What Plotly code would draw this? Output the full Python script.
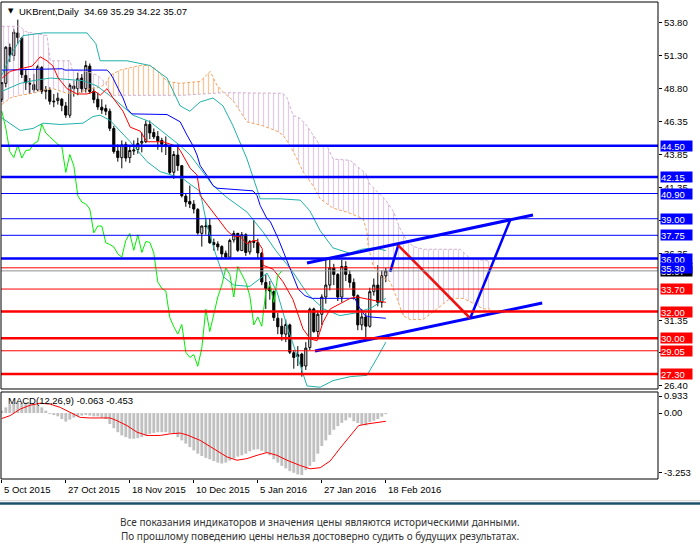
import plotly.graph_objects as go

# ---------------- data ----------------
opens = [48.0, 49.2, 51.9, 51.3, 53.0, 52.6, 49.8, 49.2, 49.1, 48.7,
         50.4, 48.6, 48.7, 47.8, 47.9, 48.0, 47.5, 46.8, 49.0, 48.8,
         49.6, 48.8, 50.5, 48.6, 48.0, 47.4, 47.3, 47.1, 45.8, 44.1,
         43.6, 44.6, 43.6, 44.1, 44.2, 44.7, 44.8, 46.1, 45.5, 45.2,
         44.9, 44.6, 44.4, 42.5, 43.8, 43.0, 40.7, 40.3, 40.1, 39.7,
         37.9, 38.4, 38.5, 37.2, 37.1, 36.9, 36.4, 36.1, 37.4, 37.9,
         36.6, 37.8, 36.5, 37.3, 37.2, 36.4, 34.2, 33.8, 33.5, 31.5,
         30.9, 30.3, 31.0, 28.9, 28.6, 28.8, 27.9, 29.3, 32.2, 30.5,
         31.8, 33.1, 34.0, 35.3, 34.8, 33.1, 35.4, 34.8, 34.2, 33.2,
         31.0, 31.6, 30.9, 33.5, 34.0, 32.7, 34.69]
highs = [49.3, 52.0, 52.2, 53.3, 54.0, 52.7, 50.3, 49.6, 49.9, 50.6,
         50.5, 49.0, 48.9, 48.4, 48.5, 48.1, 47.8, 49.2, 49.4, 50.0,
         49.9, 50.9, 50.7, 48.9, 48.5, 48.0, 47.6, 47.3, 46.0, 44.6,
         44.9, 44.8, 44.5, 44.9, 45.1, 45.5, 46.4, 46.4, 45.8, 45.6,
         45.1, 45.2, 44.5, 44.1, 44.6, 43.0, 40.9, 41.5, 40.4, 39.8,
         38.5, 39.0, 39.0, 37.5, 37.3, 37.0, 36.6, 37.5, 38.1, 37.9,
         38.0, 37.9, 37.4, 38.9, 37.5, 36.5, 34.8, 34.3, 33.6, 31.9,
         31.5, 31.4, 31.1, 29.1, 29.4, 28.9, 29.7, 32.3, 32.3, 32.1,
         33.3, 36.0, 35.9, 35.6, 34.9, 35.9, 35.8, 35.1, 34.5, 33.3,
         32.2, 31.9, 33.8, 34.5, 35.5, 35.1, 35.29]
lows = [47.8, 48.9, 50.8, 50.9, 52.2, 49.6, 48.7, 48.4, 48.5, 48.6,
        48.4, 48.0, 47.6, 47.4, 47.6, 47.1, 46.6, 46.6, 48.2, 48.3,
        48.5, 48.5, 48.4, 47.7, 47.2, 46.9, 46.8, 45.6, 43.9, 43.3,
        42.8, 43.3, 43.2, 43.8, 43.9, 44.0, 44.7, 45.0, 45.0, 44.2,
        44.0, 43.8, 42.3, 42.0, 42.6, 40.6, 39.9, 39.8, 39.4, 37.8,
        36.9, 37.8, 37.1, 36.6, 36.6, 36.0, 35.98, 36.0, 37.2, 36.5,
        36.6, 36.2, 36.3, 36.8, 36.0, 34.0, 32.2, 32.9, 31.3, 30.3,
        29.8, 29.7, 28.8, 27.7, 27.9, 27.1, 27.6, 29.1, 30.4, 30.0,
        31.0, 32.6, 33.6, 34.0, 32.8, 32.7, 34.3, 33.8, 32.9, 30.6,
        30.6, 30.0, 30.8, 33.2, 32.4, 32.3, 34.22]
closes = [49.25, 51.92, 51.33, 53.05, 52.65, 49.86, 49.24, 49.15, 48.71, 50.46,
          48.61, 48.71, 47.85, 47.85, 48.08, 47.54, 46.81, 49.05, 48.80, 49.56,
          48.79, 50.54, 48.58, 47.98, 47.42, 47.19, 47.10, 45.81, 44.06, 43.61,
          44.56, 43.57, 44.14, 44.18, 44.66, 44.83, 46.12, 45.46, 45.17, 44.86,
          44.61, 44.44, 42.49, 43.84, 43.00, 40.73, 40.26, 40.11, 39.73, 37.93,
          38.45, 38.45, 37.19, 37.06, 36.88, 36.35, 36.11, 37.36, 37.89, 36.62,
          37.79, 36.46, 37.28, 37.22, 36.42, 34.23, 33.75, 33.55, 31.55, 30.86,
          30.31, 31.03, 28.94, 28.55, 28.76, 27.88, 29.25, 32.18, 30.50, 31.80,
          33.10, 34.00, 35.30, 34.80, 33.10, 35.40, 34.80, 34.20, 33.20, 31.00,
          31.60, 30.90, 33.50, 34.00, 32.70, 34.70, 35.07]
bar_index = list(range(len(closes)))

date_tick_idx = [0, 16, 32, 48, 64, 80, 96]
date_tick_text = ["5 Oct 2015", "27 Oct 2015", "18 Nov 2015", "10 Dec 2015",
                  "5 Jan 2016", "27 Jan 2016", "18 Feb 2016"]

price_ticks = [53.80, 51.30, 48.80, 46.35, 43.85, 41.35, 38.85, 36.35, 31.35, 28.90, 26.40]
price_tick_text = ["53.80", "51.30", "48.80", "46.35", "43.85", "41.35", "38.85",
                   "36.35", "31.35", "28.90", "26.40"]

# Bollinger bands
bb_up_x = [0, 2.5, 5.3, 10.5, 21.3, 23.5, 24.6, 31.3, 37.0, 41.3, 44.6, 47.0, 49.6, 52.8,
           55.3, 57.8, 61.3, 64.6, 69.6, 74.6, 77.0, 79.6, 82.8, 87.0, 90.0, 93.0, 96.0]
bb_up = [49.8, 51.5, 52.8, 53.0, 53.0, 52.2, 50.9, 50.9, 50.55, 49.6, 47.5, 47.1, 47.8, 48.1,
         47.5, 46.0, 43.5, 40.5, 40.5, 40.4, 39.6, 38.1, 36.8, 36.4, 36.7, 36.8, 36.6]
bb_mid_x = [0, 4.6, 7.8, 12.1, 20.3, 23.8, 27.8, 32.8, 37.1, 41.3, 44.6, 47.1, 49.6, 52.8,
            56.3, 61.3, 65.3, 68.5, 72.5, 76.5, 80.5, 84.5, 88.5, 92.5, 96.0]
bb_mid = [48.6, 49.2, 49.4, 49.6, 49.4, 49.0, 48.1, 46.8, 46.3, 45.3, 44.5, 43.8, 42.8, 41.5,
          40.6, 39.5, 38.0, 36.6, 35.1, 33.3, 32.2, 31.7, 31.9, 32.3, 33.0]
bb_low_x = [0, 4.6, 7.8, 10.3, 14.6, 20.3, 22.8, 24.6, 27.1, 32.1, 36.3, 39.6, 42.8, 45.3,
            49.6, 51.3, 53.5, 55.5, 58.0, 62.0, 64.6, 66.3, 68.8, 71.3, 73.8, 76.3, 79.6,
            82.8, 87.1, 91.3, 94.0, 96.0]
bb_low = [46.6, 45.65, 45.8, 46.2, 46.1, 46.2, 46.7, 46.8, 46.4, 44.8, 43.3, 42.55, 42.25, 42.0,
          41.05, 38.5, 36.3, 34.6, 34.0, 33.9, 34.5, 34.9, 33.5, 30.9, 28.7, 26.4, 26.3,
          26.8, 27.1, 27.2, 28.6, 29.7]

# Ichimoku
tenkan_x = [0.1, 2.1, 4.6, 7.6, 9.6, 11.3, 12.8, 14.1, 16.3, 18.8, 21.3, 23.3, 24.6, 26.3,
            27.8, 30.3, 32.1, 34.6, 36.3, 40.3, 43.8, 44.6, 47.1, 48.8, 49.6, 52.1, 53.8,
            56.3, 57.8, 59.6, 61.3, 62.8, 63.8, 65.1, 65.3, 67.8, 70.3, 72.8, 75.3, 77.1,
            78.8, 80.3, 82.1, 84.6, 87.1, 88.8, 90.3, 93.8, 96.0]
tenkan = [49.6, 50.1, 50.3, 50.5, 51.2, 50.9, 50.5, 49.6, 48.8, 48.4, 48.4, 48.6, 48.3, 48.8,
          48.1, 47.1, 45.9, 45.6, 44.8, 44.8, 44.45, 44.15, 42.8, 42.3, 40.75, 39.8, 39.1,
          38.1, 37.7, 37.65, 37.1, 37.35, 37.35, 36.75, 35.5, 35.2, 34.25, 32.9, 30.7, 29.95,
          29.8, 31.2, 32.2, 32.6, 33.0, 33.1, 33.0, 32.8, 32.7]
kijun_x = [0, 15.1, 15.8, 26.3, 27.1, 27.8, 29.1, 30.3, 31.3, 32.5, 41.3, 44.6, 46.3, 47.8,
           48.8, 49.6, 51.3, 52.8, 53.8, 62.8, 63.8, 64.6, 66.3, 67.1, 69.1, 70.8, 72.6,
           74.1, 75.8, 77.6, 88.3, 89.1, 90.8, 92.1, 96.0]
kijun = [50.2, 50.3, 50.2, 50.2, 49.95, 49.6, 48.8, 48.1, 47.3, 46.9, 46.85, 46.3, 45.3, 44.5,
         43.8, 43.0, 42.25, 41.5, 41.3, 41.1, 40.75, 40.0, 39.0, 38.8, 37.5, 36.2, 34.7,
         33.7, 33.2, 33.0, 33.0, 32.45, 31.7, 31.6, 31.5]
chikou_shift = 26
senkou_a_x = [0, 2.1, 4.6, 7.8, 10.3, 12.8, 16.3, 18.8, 22.1, 24.6, 26.0, 27.1, 29.6, 31.3,
              34.6, 37.1, 38.8, 41.3, 44.6, 49.6, 52.1, 53.8, 55.5, 57.8, 61.3, 65.3, 68.8,
              70.3, 72.1, 73.8, 75.3, 78.0, 79.6, 82.8, 86.3, 90.3, 91.3, 91.6, 92.8, 94.6,
              97.1, 98.8, 100.3, 102.1, 105.3, 108.8, 112.1, 115.3, 117.1, 120.3, 122.1]
senkou_a = [47.6, 48.1, 48.3, 48.45, 48.7, 48.8, 48.45, 48.45, 48.8, 48.9, 49.2, 49.8, 50.2, 50.3,
            50.55, 50.55, 50.2, 49.35, 49.2, 49.35, 50.1, 49.05, 48.5, 47.9, 46.3, 46.0, 45.6,
            45.3, 44.5, 43.5, 42.55, 41.4, 40.5, 39.8, 39.5, 39.0, 38.0, 36.95, 35.5, 34.7,
            34.25, 33.0, 31.7, 31.4, 31.4, 32.2, 33.0, 33.0, 32.75, 32.2, 32.2]
senkou_b_x = [0, 4.6, 5.8, 11.3, 12.1, 17.1, 17.6, 21.3, 24.0, 26.0, 27.5, 45.0, 55.5, 70.3,
              71.3, 72.8, 74.6, 76.3, 79.6, 81.3, 82.8, 87.1, 91.0, 92.0, 94.0, 96.0, 98.0,
              99.5, 101.3, 103.0, 105.3, 114.6, 115.3, 117.1, 122.1]
senkou_b = [53.5, 53.5, 53.1, 52.8, 50.9, 50.9, 50.2, 50.1, 49.8, 49.2, 48.3, 48.3, 48.5, 48.45,
            48.1, 46.8, 46.55, 46.0, 44.5, 44.5, 43.5, 43.4, 42.4, 41.6, 41.0, 40.4, 39.5,
            38.3, 37.3, 36.9, 36.7, 36.7, 36.5, 36.0, 35.8]
cloud_breaks = [0.0, 26.0, 55.5, 122.1]

# MACD(12,26,9)
macd_main = [0.13, 0.31, 0.49, 0.58, 0.58, 0.58, 0.58, 0.54, 0.49, 0.43,
             0.31, 0.13, -0.05, -0.11, -0.18, -0.33, -0.47, -0.36, -0.25, -0.18,
             -0.14, -0.11, -0.14, -0.18, -0.18, -0.24, -0.33, -0.60, -0.83, -1.05,
             -1.23, -1.32, -1.41, -1.41, -1.38, -1.32, -1.23, -1.14, -1.09, -1.05,
             -1.05, -1.05, -1.09, -1.14, -1.32, -1.50, -1.68, -1.87, -2.05, -2.23,
             -2.36, -2.46, -2.54, -2.64, -2.72, -2.77, -2.72, -2.61, -2.50, -2.39,
             -2.32, -2.23, -2.10, -2.01, -1.99, -2.07, -2.17, -2.32, -2.54, -2.72,
             -2.90, -3.04, -3.19, -3.28, -3.37, -3.40, -3.13, -2.90, -2.68, -2.23,
             -1.81, -1.50, -1.20, -0.92, -0.72, -0.54, -0.40, -0.25, -0.45, -0.55,
             -0.65, -0.68, -0.50, -0.42, -0.33, -0.20, -0.063]
macd_signal_x = [0, 2.1, 4.6, 7.1, 9.6, 12.1, 14.6, 17.1, 19.6, 22.1, 24.6, 27.1, 28.8, 31.3,
                 33.8, 36.3, 39.6, 42.1, 44.6, 46.3, 49.6, 52.9, 56.3, 58.8, 61.3, 63.8, 66.3,
                 68.8, 71.3, 74.6, 77.1, 79.6, 82.1, 84.6, 87.1, 89.2, 91.3, 93.8, 95.8, 96.0]
macd_signal = [-0.30, -0.14, 0.22, 0.43, 0.54, 0.49, 0.31, 0.04, -0.24, -0.27, -0.25, -0.27, -0.42, -0.69,
               -1.05, -1.23, -1.23, -1.14, -1.10, -1.20, -1.50, -1.96, -2.41, -2.59, -2.50, -2.32, -2.17,
               -2.32, -2.59, -2.88, -3.06, -3.00, -2.63, -1.92, -1.23, -0.69, -0.60, -0.54, -0.47, -0.453]
macd_ticks = [0.933, 0.0, -3.253]
macd_tick_text = ["0.933", "0.00", "-3.253"]

# horizontal levels
level_values = [44.50, 42.15, 40.90, 39.00, 37.75, 36.00, 35.30, 33.70, 32.00, 30.00, 29.05, 27.30]
level_text = ["44.50", "42.15", "40.90", "39.00", "37.75", "36.00", "35.30",
              "33.70", "32.00", "30.00", "29.05", "27.30"]

# trend channel and forecast path
channel_up_x = [76.3, 132.8]
channel_up = [35.66, 39.28]
channel_low_x = [78.3, 135.1]
channel_low = [29.03, 32.65]
forecast_x = [97.1, 99.1, 117.1, 127.1]
forecast_y = [35.0, 37.0, 31.5, 38.9]

# ---------------- styles ----------------
level_line_color = ["#0000FF"] * 6 + ["#FF0000"] * 6
level_label_color = ["#0000FF"] * 7 + ["#FF0000"] * 5
level_width = [2.5, 2.5, 1, 1, 1, 2.5, 1, 1, 2.5, 2.5, 1, 2.5]
cloud_colors = ["#D2B0D2", "#F4A460", "#D2B0D2"]
FONT = "Liberation Sans, Arial, sans-serif"
TEAL = "#20B2AA"

PRICE_DOM = [0.1887, 1.0]
MACD_DOM = [0.0, 0.1824]

fig = go.Figure()

# cloud hatching
for k in range(len(cloud_breaks) - 1):
    lo, hi = cloud_breaks[k], cloud_breaks[k + 1]
    ax = [x for x in senkou_a_x if lo <= x <= hi]
    ay = [y for x, y in zip(senkou_a_x, senkou_a) if lo <= x <= hi]
    bx = [x for x in senkou_b_x if lo <= x <= hi]
    by = [y for x, y in zip(senkou_b_x, senkou_b) if lo <= x <= hi]
    fig.add_trace(go.Scatter(
        x=ax + bx[::-1], y=ay + by[::-1], fill="toself", mode="none",
        fillcolor="rgba(0,0,0,0)",
        fillpattern=dict(shape="|", fgcolor=cloud_colors[k], bgcolor="rgba(0,0,0,0)",
                         size=5, solidity=0.25, fgopacity=0.65),
        hoverinfo="skip"))
fig.add_trace(go.Scatter(x=senkou_a_x, y=senkou_a, mode="lines",
                         line=dict(color="#F4A460", width=1, dash="3px,2px")))
fig.add_trace(go.Scatter(x=senkou_b_x, y=senkou_b, mode="lines",
                         line=dict(color="#D2B0D2", width=1, dash="3px,2px")))

# candles
fig.add_trace(go.Candlestick(
    x=bar_index, open=opens, high=highs, low=lows, close=closes,
    increasing=dict(line=dict(color="black", width=1), fillcolor="white"),
    decreasing=dict(line=dict(color="black", width=1), fillcolor="black"),
    whiskerwidth=0, hoverinfo="skip"))

# Bollinger
for xs, ys in [(bb_up_x, bb_up), (bb_mid_x, bb_mid), (bb_low_x, bb_low)]:
    fig.add_trace(go.Scatter(x=xs, y=ys, mode="lines", line=dict(color=TEAL, width=1)))
# Ichimoku lines
fig.add_trace(go.Scatter(x=kijun_x, y=kijun, mode="lines", line=dict(color="#0000FF", width=1)))
fig.add_trace(go.Scatter(x=tenkan_x, y=tenkan, mode="lines", line=dict(color="#FF0000", width=1)))
fig.add_trace(go.Scatter(x=[i - chikou_shift for i in bar_index[chikou_shift:]],
                         y=closes[chikou_shift:], mode="lines",
                         line=dict(color="#00EE00", width=1)))

# channel + forecast
fig.add_trace(go.Scatter(x=channel_up_x, y=channel_up, mode="lines", line=dict(color="#0000FF", width=3)))
fig.add_trace(go.Scatter(x=channel_low_x, y=channel_low, mode="lines", line=dict(color="#0000FF", width=3)))
fig.add_trace(go.Scatter(x=forecast_x[0:2], y=forecast_y[0:2], mode="lines", line=dict(color="#0000FF", width=2.5)))
fig.add_trace(go.Scatter(x=forecast_x[1:3], y=forecast_y[1:3], mode="lines", line=dict(color="#EE1111", width=2.5)))
fig.add_trace(go.Scatter(x=forecast_x[2:4], y=forecast_y[2:4], mode="lines", line=dict(color="#0000FF", width=2.5)))

# MACD
fig.add_trace(go.Bar(x=bar_index, y=macd_main, marker=dict(color="#C0C0C0", line=dict(width=0)),
                     width=0.72, yaxis="y2"))
fig.add_trace(go.Scatter(x=macd_signal_x, y=macd_signal, mode="lines",
                         line=dict(color="#FF0000", width=1), yaxis="y2"))

shapes = []
# current price line
shapes.append(dict(type="line", xref="paper", x0=0, x1=1, yref="y", y0=closes[-1], y1=closes[-1],
                   line=dict(color="#909090", width=1)))
for v, c, w in zip(level_values, level_line_color, level_width):
    shapes.append(dict(type="line", xref="paper", x0=0, x1=1, yref="y", y0=v, y1=v,
                       line=dict(color=c, width=w)))
# panel frames
shapes.append(dict(type="rect", xref="paper", yref="paper", x0=0, x1=1, y0=PRICE_DOM[0], y1=PRICE_DOM[1],
                   line=dict(color="black", width=1)))
shapes.append(dict(type="rect", xref="paper", yref="paper", x0=0, x1=1, y0=MACD_DOM[0], y1=MACD_DOM[1],
                   line=dict(color="black", width=1)))
# separator
shapes.append(dict(type="line", xref="paper", yref="paper", x0=-0.01, x1=1.07, y0=-0.0455, y1=-0.0455,
                   line=dict(color="#D0D0D0", width=1)))
shapes.append(dict(type="line", xref="paper", yref="paper", x0=-0.01, x1=1.07, y0=-0.0515, y1=-0.0515,
                   line=dict(color="#1B4F6B", width=2.5)))

ann = []
# current price label (partly hidden)
ann.append(dict(xref="paper", x=1.003, xanchor="left", yref="y", y=closes[-1], yanchor="middle",
                text="%.2f" % closes[-1], showarrow=False, bgcolor="black",
                font=dict(family=FONT, size=9.5, color="white"), width=31, height=10, borderpad=0, align="left"))
for v, t, c in zip(level_values, level_text, level_label_color):
    ann.append(dict(xref="paper", x=1.003, xanchor="left", yref="y", y=v, yanchor="middle",
                    text=t, showarrow=False, bgcolor=c,
                    font=dict(family=FONT, size=9.5, color="white"), width=31, height=10,
                    borderpad=0, align="left"))
for idx, t in zip(date_tick_idx, date_tick_text):
    ann.append(dict(xref="x", x=idx, xanchor="left", xshift=0, yref="paper", y=-0.021, yanchor="middle",
                    text=t, showarrow=False, font=dict(family=FONT, size=9.5, color="black")))
ann.append(dict(xref="paper", x=0.0075, xanchor="left", yref="paper", y=0.981, yanchor="middle",
                text="\u25BC", showarrow=False, font=dict(family="DejaVu Sans", size=7, color="black")))
ann.append(dict(xref="paper", x=0.024, xanchor="left", yref="paper", y=0.981, yanchor="middle",
                text="UKBrent,Daily\u00a0\u00a0%.2f %.2f %.2f %.2f" % (opens[-1], highs[-1], lows[-1], closes[-1]),
                showarrow=False, font=dict(family=FONT, size=9.5, color="black")))
ann.append(dict(xref="paper", x=0.0075, xanchor="left", yref="paper", y=0.1656, yanchor="middle",
                text="MACD(12,26,9) %.3f %.3f" % (macd_main[-1], macd_signal[-1]),
                showarrow=False, font=dict(family=FONT, size=9.5, color="black")))
ann.append(dict(xref="paper", x=0.4855, xanchor="center", yref="paper", y=-0.0901, yanchor="middle",
                text="Все показания индикаторов и значения цены являются историческими данными.",
                showarrow=False, font=dict(family="Noto Sans", size=10, color="#333333")))
ann.append(dict(xref="paper", x=0.4855, xanchor="center", yref="paper", y=-0.1195, yanchor="middle",
                text="По прошлому поведению цены нельзя достоверно судить о будущих результатах.",
                showarrow=False, font=dict(family="Noto Sans", size=10, color="#333333")))

fig.update_layout(
    width=700, height=552, margin=dict(l=1, r=42, t=2, b=73),
    paper_bgcolor="white", plot_bgcolor="white", showlegend=False,
    shapes=shapes, annotations=ann, boxgap=0.25, hovermode=False,
    xaxis=dict(domain=[0, 1], range=[-0.2, 164.05], anchor="y2", tickvals=date_tick_idx,
               ticks="outside", ticklen=3, tickcolor="black", showticklabels=False,
               showgrid=False, zeroline=False, rangeslider=dict(visible=False), showline=False),
    yaxis=dict(domain=PRICE_DOM, range=[26.17, 55.33], anchor="x", side="right",
               tickvals=price_ticks, ticktext=price_tick_text, ticks="outside", ticklen=3,
               tickcolor="black", showgrid=False, zeroline=False,
               tickfont=dict(family=FONT, size=9.5, color="black")),
    yaxis2=dict(domain=MACD_DOM, range=[-3.62, 1.155], anchor="x", side="right",
                tickvals=macd_ticks, ticktext=macd_tick_text, ticks="outside", ticklen=3,
                tickcolor="black", showgrid=False, zeroline=False,
                tickfont=dict(family=FONT, size=9.5, color="black")),
)

fig.write_html("out.html", config={"displayModeBar": False, "staticPlot": True},
               post_script="document.body.style.margin='0px';document.body.style.overflow='hidden';")
